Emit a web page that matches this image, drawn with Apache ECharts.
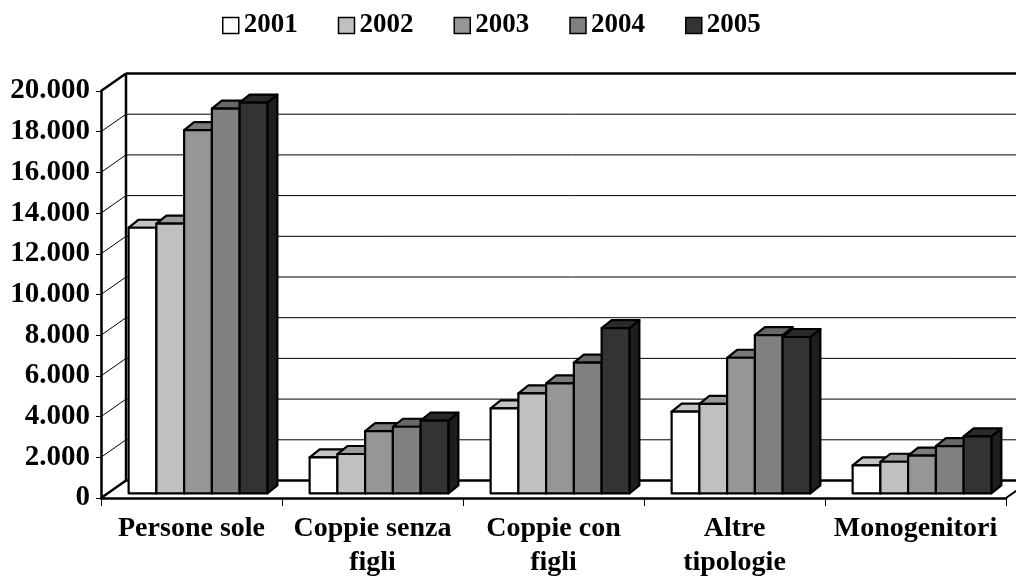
<!DOCTYPE html>
<html>
<head>
<meta charset="utf-8">
<script src="https://cdn.jsdelivr.net/npm/echarts@6/dist/echarts.min.js"></script>
<style>html,body{margin:0;padding:0;background:#fff}#c{width:1016px;height:580px}</style>
</head>
<body>
<div id="c"></div>
<script>
// ---- data ----
const categories = ['Persone sole', 'Coppie senza\nfigli', 'Coppie con\nfigli', 'Altre\ntipologie', 'Monogenitori'];
const years = ['2001', '2002', '2003', '2004', '2005'];
const v2001 = [13050, 1770, 4170, 4010, 1370];
const v2002 = [13250, 1930, 4910, 4390, 1550];
const v2003 = [17850, 3060, 5400, 6660, 1850];
const v2004 = [18900, 3270, 6420, 7770, 2320];
const v2005 = [19200, 3570, 8120, 7680, 2800];
const valueTicks = [0, 2000, 4000, 6000, 8000, 10000, 12000, 14000, 16000, 18000, 20000];
const yMin = 0, yMax = 20000, yStep = 2000;
const seriesValues = [v2001, v2002, v2003, v2004, v2005];

// ---- style ----
const FONT = '"Liberation Serif", "Times New Roman", serif';
const frontColors = ['#FFFFFF', '#C0C0C0', '#969696', '#808080', '#333333'];
const topColors = ['#C4C4C4', '#9A9A9A', '#7A7A7A', '#686868', '#2A2A2A'];
const sideColors = ['#A0A0A0', '#808080', '#646464', '#555555', '#1E1E1E'];
const WALL_DX = 25, WALL_DY = -17.5;   // depth of the 3D floor
const BAR_DX = 6.5, BAR_DY = -4.7;     // bar front plane offset
const BAR_DEPTH_DX = 10, BAR_DEPTH_DY = -8;
const BAR_FRAC = 0.1533;

const chart = echarts.init(document.getElementById('c'), null, {renderer: 'canvas'});

function frameItem(params, api) {
  const v = api.value(0);
  const catW = api.size([1, 0])[0];
  const p0 = api.coord([0, v]);
  const left = p0[0] - catW / 2;
  const right = api.coord([categories.length - 1, v])[0] + catW / 2;
  const y = p0[1];
  const thick = (v === yMin || v === yMax);
  const lw = thick ? 2.5 : 1;
  const children = [
    {type: 'line', shape: {x1: left, y1: y, x2: left + WALL_DX, y2: y + WALL_DY}, style: {stroke: '#000', lineWidth: lw}},
    {type: 'line', shape: {x1: left + WALL_DX, y1: y + WALL_DY, x2: right + WALL_DX, y2: y + WALL_DY}, style: {stroke: '#000', lineWidth: lw}}
  ];
  if (v === yMin) {
    const top = api.coord([0, yMax])[1];
    children.push({type: 'line', shape: {x1: left + WALL_DX, y1: y + WALL_DY, x2: left + WALL_DX, y2: top + WALL_DY}, style: {stroke: '#000', lineWidth: 2.5}});
    children.push({type: 'line', shape: {x1: right, y1: y, x2: right + WALL_DX, y2: y + WALL_DY}, style: {stroke: '#000', lineWidth: 2}});
  }
  return {type: 'group', children: children};
}

function makeBarRender(i) {
  return function (params, api) {
    const ci = api.value(0);
    const base = api.coord([ci, 0]);
    const top = api.coord([ci, api.value(1)]);
    const catW = api.size([1, 0])[0];
    const bw = catW * BAR_FRAC;
    const x0 = base[0] + (i - 2.5) * bw + BAR_DX;
    const x1 = x0 + bw;
    const yb = base[1] + BAR_DY;
    const yt = top[1] + BAR_DY;
    const dx = BAR_DEPTH_DX, dy = BAR_DEPTH_DY;
    const st = {stroke: '#000', lineWidth: 2.2, lineJoin: 'round'};
    return {
      type: 'group',
      children: [
        {type: 'polygon', shape: {points: [[x1, yt], [x1 + dx, yt + dy], [x1 + dx, yb + dy], [x1, yb]]}, style: Object.assign({fill: sideColors[i]}, st)},
        {type: 'polygon', shape: {points: [[x0, yt], [x0 + dx, yt + dy], [x1 + dx, yt + dy], [x1, yt]]}, style: Object.assign({fill: topColors[i]}, st)},
        {type: 'rect', shape: {x: x0, y: yt, width: bw, height: yb - yt}, style: Object.assign({fill: frontColors[i]}, st)}
      ]
    };
  };
}

const series = [{
  type: 'custom',
  name: '__frame',
  clip: false,
  z: 1,
  silent: true,
  renderItem: frameItem,
  encode: {y: 0},
  data: valueTicks.map(v => [v])
}];
years.forEach((yr, i) => {
  series.push({
    type: 'custom',
    name: yr,
    clip: false,
    z: 2 + i,
    renderItem: makeBarRender(i),
    itemStyle: {color: frontColors[i], borderColor: '#000', borderWidth: 1.5},
    encode: {x: 0, y: 1},
    data: seriesValues[i].map((v, ci) => [ci, v])
  });
});

chart.setOption({
  animation: false,
  backgroundColor: '#fff',
  textStyle: {fontFamily: FONT},
  legend: {
    data: years,
    top: 12,
    left: 222,
    padding: 0,
    icon: 'rect',
    itemWidth: 16,
    itemHeight: 16,
    itemGap: 40,
    itemStyle: {borderColor: '#000', borderWidth: 1.5},
    textStyle: {fontFamily: FONT, fontWeight: 'bold', fontSize: 27, color: '#000', padding: [0, 0, 0, 0]}
  },
  grid: {left: 101, right: 10, top: 91, bottom: 82, containLabel: false},
  xAxis: {
    type: 'category',
    data: categories,
    axisLine: {lineStyle: {color: '#000', width: 2.5}},
    axisTick: {show: true, alignWithLabel: false, length: 8, lineStyle: {color: '#000', width: 1}},
    axisLabel: {fontFamily: FONT, fontWeight: 'bold', fontSize: 28, color: '#000', lineHeight: 34, margin: 14, interval: 0}
  },
  yAxis: {
    type: 'value',
    min: yMin, max: yMax, interval: yStep,
    axisLine: {show: true, lineStyle: {color: '#000', width: 2.5}},
    axisTick: {show: true, length: 5, lineStyle: {color: '#000', width: 1}},
    splitLine: {show: false},
    axisLabel: {
      fontFamily: FONT, fontWeight: 'bold', fontSize: 29, color: '#000', margin: 11,
      formatter: v => v === 0 ? '0' : (v / 1000).toFixed(0) + '.000'
    }
  },
  series: series
});
</script>
</body>
</html>
